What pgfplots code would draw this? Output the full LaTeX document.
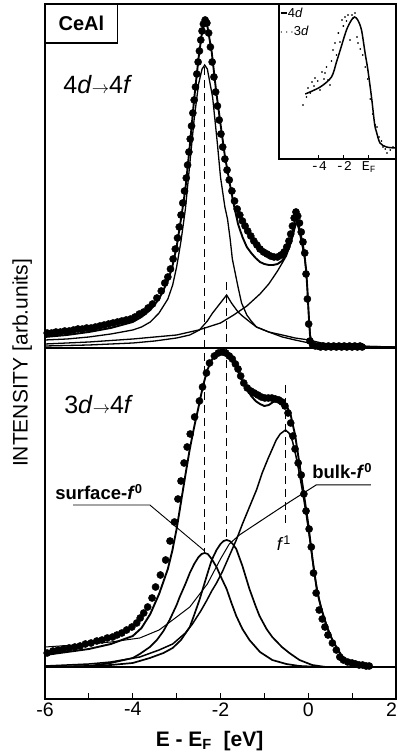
\documentclass[border=0pt]{standalone}
\usepackage{fontspec}
\setmainfont{Liberation Sans}
\newfontfamily\monofont{Liberation Mono}
\usepackage{pgfplots}
\pgfplotsset{compat=1.18}
\usetikzlibrary{calc}

\pgfplotstableread{
x y
-5.95 366
-5.85 366
-5.75 367
-5.65 367
-5.55 368
-5.45 368
-5.35 369
-5.25 370
-5.15 370
-5.05 371
-4.95 371
-4.85 372
-4.75 373
-4.65 374
-4.55 375
-4.45 376
-4.35 377
-4.25 378
-4.15 379
-4.05 380
-3.95 382
-3.85 385
-3.75 387
-3.65 391
-3.55 395
-3.45 401
-3.35 408
-3.27 416
-3.2 422
-3.14 430
-3.08 440
-3.03 450
-2.98 461
-2.94 472
-2.90 484
-2.86 496
-2.82 508
-2.78 521
-2.75 534
-2.72 547
-2.69 560
-2.66 573
-2.63 586
-2.60 599
-2.57 612
-2.54 625
-2.51 637
-2.48 648
-2.45 659
-2.42 668
-2.39 675
-2.35 679
-2.31 676
-2.27 666
-2.23 652
-2.19 637
-2.15 622
-2.11 607
-2.07 593
-2.03 579
-1.99 565
-1.95 552
-1.90 540
-1.85 529
-1.80 519
-1.74 508
-1.68 498
-1.62 490
-1.56 484
-1.50 478
-1.44 473
-1.38 468
-1.31 463
-1.24 458
-1.17 454
-1.10 450
-1.02 447
-0.94 445
-0.86 443
-0.78 442
-0.70 442
-0.62 444
-0.55 447
-0.49 452
-0.44 458
-0.40 465
-0.36 473
-0.32 481
-0.28 487
-0.24 483
-0.20 476
-0.16 467
-0.12 457
-0.08 446
-0.05 425
-0.02 400
0.01 375
0.04 358
0.10 354
0.16 353
0.22 353
0.28 352
0.34 353
0.40 352
0.46 353
0.52 352
0.58 353
0.64 352
0.70 353
0.76 352
0.82 353
0.88 352
0.94 353
1.00 352
1.06 353
1.12 352
1.18 353
1.23 352
}\topdots

\pgfplotstableread{
x y
-6 362
-5.5 364
-5 367
-4.5 371
-4 377
-3.8 382
-3.6 389
-3.4 400
-3.2 418
-3.1 432
-3.0 452
-2.9 480
-2.8 510
-2.7 553
-2.6 600
-2.5 641
-2.42 667
-2.36 678
-2.3 673
-2.2 647
-2.1 608
-2.0 575
-1.9 543
-1.8 518
-1.7 495
-1.6 475
-1.5 462
-1.4 452
-1.3 446
-1.2 441
-1.1 437
-1.0 435
-0.9 434
-0.8 434
-0.7 435
-0.6 438
-0.5 445
-0.43 453
-0.38 462
-0.32 475
-0.27 486
-0.2 470
-0.14 458
-0.09 446
-0.05 430
-0.02 410
0.01 385
0.04 364
0.08 356
0.15 354
0.4 353
1.3 353
}\toptotal

\pgfplotstableread{
x y
-6 359
-5.5 360
-5 362
-4.5 365
-4 369
-3.8 372
-3.6 377
-3.4 386
-3.2 400
-3.09 414
-3.0 432
-2.9 458
-2.8 490
-2.7 535
-2.6 580
-2.5 615
-2.42 630
-2.36 634
-2.3 630
-2.18 602
-2.07 555
-2.0 522
-1.9 492
-1.84 480
-1.78 460
-1.73 440
-1.6 412
-1.52 396
-1.4 384
-1.3 378
-1.18 372
-0.9 367
-0.59 364
-0.3 361
0.02 359
0.3 356
0.8 353
2.0 352
}\topsurf

\pgfplotstableread{
x y
-6 353
-5 354
-4 356
-3.5 358
-3 361
-2.7 364
-2.48 369
-2.3 378
-2.18 386
-2.02 395
-1.86 404
-1.75 396
-1.6 387
-1.5 383
-1.3 376
-1.18 372
-0.9 367
-0.59 362
-0.3 359
0.02 356
0.3 354
1.0 353
2.0 352
}\topbulk

\pgfplotstableread{
x y
-6 355
-5 357
-4 360
-3.5 362
-3.0 364
-2.5 369
-2.0 376
-1.7 384
-1.4 393
-1.1 405
-0.9 415
-0.7 428
-0.5 443
-0.4 455
-0.33 466
-0.27 478
-0.22 470
-0.15 456
-0.08 440
-0.03 418
0.01 385
0.05 362
0.1 354
0.2 352
2.0 352
}\topfone

\pgfplotstableread{
x y
-5.95 46
-5.82 48
-5.70 49
-5.58 50
-5.45 51
-5.32 52
-5.20 53
-5.08 55
-4.95 56
-4.82 58
-4.70 59
-4.58 61
-4.46 62
-4.36 64
-4.25 66
-4.14 69
-4.02 72
-3.91 76
-3.83 81
-3.75 86
-3.66 92
-3.56 101
-3.48 112
-3.37 124
-3.25 139
-3.15 158
-3.05 177
-2.97 200
-2.90 218
-2.83 236
-2.76 252
-2.69 265
-2.59 282
-2.48 298
-2.41 312
-2.32 326
-2.25 336
-2.14 343
-2.05 346
-1.96 347
-1.88 346
-1.80 343
-1.73 340
-1.66 335
-1.60 330
-1.54 323
-1.47 316
-1.39 311
-1.31 308
-1.23 306
-1.15 304
-1.07 302
-0.99 301
-0.91 301
-0.83 301
-0.75 300
-0.67 299
-0.60 297
-0.53 293
-0.46 286
-0.40 276
-0.35 263
-0.30 250
-0.23 236
-0.16 224
-0.10 205
-0.05 188
0.02 170
0.07 152
0.12 126
0.18 106
0.25 89
0.32 80
0.38 72
0.45 64
0.55 56
0.64 49
0.72 42
0.80 39
0.90 37
1.00 36
1.08 35
1.16 34
1.24 34
1.32 33
1.39 33
}\botdots

\pgfplotstableread{
x y
-6 44
-5.5 47
-5 50
-4.5 55
-4 63
-3.8 71
-3.6 85
-3.4 105
-3.2 130
-3.1 148
-3.0 170
-2.9 197
-2.8 224
-2.7 250
-2.6 272
-2.5 292
-2.4 313
-2.3 329
-2.2 339
-2.1 344
-2.0 346
-1.9 345
-1.8 341
-1.7 336
-1.6 328
-1.5 318
-1.4 310
-1.3 303
-1.2 298
-1.1 295
-1.0 293
-0.9 294
-0.8 297
-0.7 299
-0.6 298
-0.5 294
-0.4 284
-0.3 264
-0.2 235
-0.1 205
0.0 175
0.1 139
0.2 108
0.3 90
0.43 72
0.55 59
0.64 52
0.75 44
0.86 39
1.0 35
1.16 33
1.4 32
2.0 32
}\bottotal

\pgfplotstableread{
x y
-6 32
-5 33
-4.5 36
-4.0 41
-3.84 45
-3.61 52
-3.45 59
-3.3 68
-3.16 79
-3.0 94
-2.93 102
-2.8 115
-2.7 126
-2.6 135
-2.5 142
-2.43 145
-2.36 146
-2.29 145
-2.2 140
-2.09 132
-2.0 123
-1.86 110
-1.75 96
-1.64 83
-1.5 70
-1.34 59
-1.1 47
-0.82 39
-0.5 35
-0.2 33
0.3 32
2.0 32
}\botsurf

\pgfplotstableread{
x y
-6 32
-5 33
-4.5 34
-4.0 36
-3.61 41
-3.3 46
-3.09 51
-2.9 59
-2.7 72
-2.6 84
-2.48 99
-2.39 112
-2.3 125
-2.2 139
-2.09 149
-2.0 155
-1.93 158
-1.86 159
-1.79 158
-1.72 155
-1.64 150
-1.5 133
-1.34 110
-1.2 93
-1.11 83
-0.95 70
-0.82 62
-0.6 52
-0.43 46
-0.2 39
0.09 34
0.4 32
2.0 32
}\botbulk

\pgfplotstableread{
x y
-6 33
-5 35
-4.5 37
-3.84 42
-3.4 49
-3.09 55
-2.8 66
-2.64 75
-2.45 88
-2.32 98
-2.2 108
-2.09 116
-1.95 128
-1.8 143
-1.64 159
-1.5 175
-1.34 192
-1.18 209
-1.05 226
-0.92 240
-0.82 250
-0.73 259
-0.64 265
-0.52 269
-0.44 266
-0.36 258
-0.28 243
-0.2 225
-0.12 205
-0.04 183
0.05 155
0.15 122
0.25 99
0.35 82
0.45 69
0.55 59
0.64 52
0.75 44
0.86 39
1.0 35
1.2 33
1.5 32
2.0 32
}\botfone

\pgfplotstableread{
x y
-6 52
-5 55
-4.5 57
-3.84 61
-3.4 69
-3.09 79
-2.7 92
-2.3 115
-2.0 140
-1.8 155
-1.57 164
-0.95 182
-0.43 197
0.18 214
1.43 214
}\botline

\pgfplotstableread{
x y
-5.1 65
-3.9 72
-3.0 82
-2.6 97
-2.3 109
-1.8 129
-1.4 139
-1.15 142
-0.9 139
-0.6 129
-0.3 105
-0.1 90
0.2 62
0.45 35
0.6 27
0.88 16
1.4 12
2.1 11
}\insetfour

\pgfplotstableread{
x y
-5.28 54
-5.0 62
-4.88 71
-4.7 66
-4.56 77
-4.4 73
-4.32 81
-4.1 78
-3.92 69
-3.76 87
-3.6 80
-3.52 86
-3.4 92
-3.28 79
-3.12 74
-3.0 98
-2.88 109
-2.72 116
-2.6 104
-2.45 126
-2.32 117
-2.16 139
-2.05 133
-1.92 142
-1.8 138
-1.68 144
-1.52 119
-1.36 144
-1.25 141
-1.12 146
-0.96 122
-0.88 116
-0.7 110
-0.5 104
-0.3 92
-0.1 80
0.1 60
0.3 45
0.5 34
0.64 32
0.8 22
1.0 18
1.12 12
1.3 10
1.44 6
1.7 9
1.92 12
}\insetthree

\begin{document}
\begin{tikzpicture}
\begin{axis}[name=main, scale only axis, width=351pt, height=695pt,
  xmin=-6, xmax=2, ymin=0, ymax=695, clip=false,
  axis line style={line width=1.6pt},
  ytick=\empty,
  xtick={-6,-4,-2,0,2}, xticklabels={-6,-4,-2,0,\hspace*{-9pt}2},
  minor xtick={-5,-3,-1,1},
  xtick pos=left, tick align=inside,
  major tick length=6pt, minor tick length=6pt,
  every tick/.style={line width=1.2pt, black},
  tick label style={font=\fontsize{19.5}{19.5}\selectfont},
]
% divider
\draw[line width=1.2pt] (axis cs:-6,351) -- (axis cs:2,351);
% dashed reference lines
\addplot[line width=0.8pt, dash pattern=on 8pt off 5pt] coordinates {(-2.36,632) (-2.36,146)};
\addplot[line width=0.8pt, dash pattern=on 8pt off 5pt] coordinates {(-1.86,417) (-1.86,161)};
\addplot[line width=0.8pt, dash pattern=on 8pt off 5pt] coordinates {(-0.52,314) (-0.52,172)};
% top panel
\addplot[line width=1.3pt] table {\topsurf};
\addplot[line width=1.3pt] table {\topbulk};
\addplot[line width=1.3pt] table {\topfone};
\addplot[line width=1.9pt] table {\toptotal};
\addplot[only marks, mark=*, mark size=3.6pt, mark options={fill=black, draw=black}] table {\topdots};
% bottom panel
\addplot[line width=1.3pt] coordinates {(-6,32) (2,32)};
\addplot[line width=1.7pt] table {\botsurf};
\addplot[line width=1.7pt] table {\botbulk};
\addplot[line width=1.5pt] table {\botfone};
\addplot[line width=1.0pt] table {\botline};
\addplot[line width=1.9pt] table {\bottotal};
\addplot[only marks, mark=*, mark size=3.6pt, mark options={fill=black, draw=black}] table {\botdots};
% leader for surface
\draw[line width=0.9pt] (axis cs:-5.36,194) -- (axis cs:-3.61,194) -- (axis cs:-2.36,148);
% labels
\draw[line width=1.3pt, fill=white] (axis cs:-6,656) rectangle (axis cs:-4.34,695);
\node[font=\fontsize{20}{20}\selectfont\bfseries] at (axis cs:-5.17,675.5) {CeAl};
\node[anchor=west, font=\fontsize{25}{25}\selectfont] at (axis cs:-5.66,614) {4\textit{d}{\fontsize{17}{17}\selectfont$\rightarrow$}4\textit{f}};
\node[anchor=west, font=\fontsize{25}{25}\selectfont] at (axis cs:-5.64,294) {3\textit{d}{\fontsize{17}{17}\selectfont$\rightarrow$}4\textit{f}};
\node[anchor=base west, inner sep=0pt, font=\fontsize{18.5}{18.5}\selectfont\bfseries] at (axis cs:-5.77,199) {surface-\textit{f}\textsuperscript{0}};
\node[anchor=base west, inner sep=0pt, font=\fontsize{18.5}{18.5}\selectfont\bfseries] at (axis cs:0.09,220) {bulk-\textit{f}\textsuperscript{0}};
\node[anchor=base west, inner sep=0pt, font=\fontsize{18}{18}\selectfont] at (axis cs:-0.72,148) {\textit{f}\textsuperscript{1}};
\node[rotate=90, font=\fontsize{21}{21}\selectfont] at (axis cs:-6.52,336) {INTENSITY [arb.units]};
\node[font=\fontsize{21}{21}\selectfont\bfseries] at (axis cs:-2.25,-42) {E - E\textsubscript{F}\ \ [eV]};
\end{axis}
\begin{axis}[at={(main.north east)}, anchor=north east, scale only axis,
  width=117pt, height=155pt, xmin=-7.2, xmax=2.16, ymin=0, ymax=155,
  axis background/.style={fill=white},
  axis line style={line width=1.3pt}, ytick=\empty,
  xtick={-4,-2,0}, xticklabels={-4,-2,E\textsubscript{F}},
  xtick pos=left, tick align=inside, major tick length=4pt,
  every tick/.style={line width=1pt, black},
  tick label style={font=\monofont\fontsize{13.5}{13.5}\selectfont, yshift=1pt},
  clip=false]
\addplot[line width=1.5pt, smooth] table {\insetfour};
\addplot[only marks, mark=*, mark size=0.65pt] table {\insetthree};
\draw[line width=1.5pt] (rel axis cs:0.015,0.942) -- (rel axis cs:0.07,0.942);
\node[anchor=west, inner sep=0pt, font=\fontsize{13}{13}\selectfont] at (rel axis cs:0.075,0.942) {4\textit{d}};
\node[anchor=west, inner sep=0pt, font=\fontsize{13}{13}\selectfont] at (rel axis cs:0.005,0.826) {$\cdots$3\textit{d}};
\end{axis}
\pgfresetboundingbox
\path[use as bounding box] ($(main.south west)+(-45pt,-56pt)$) rectangle ($(main.north east)+(2pt,4pt)$);
\end{tikzpicture}
\end{document}
